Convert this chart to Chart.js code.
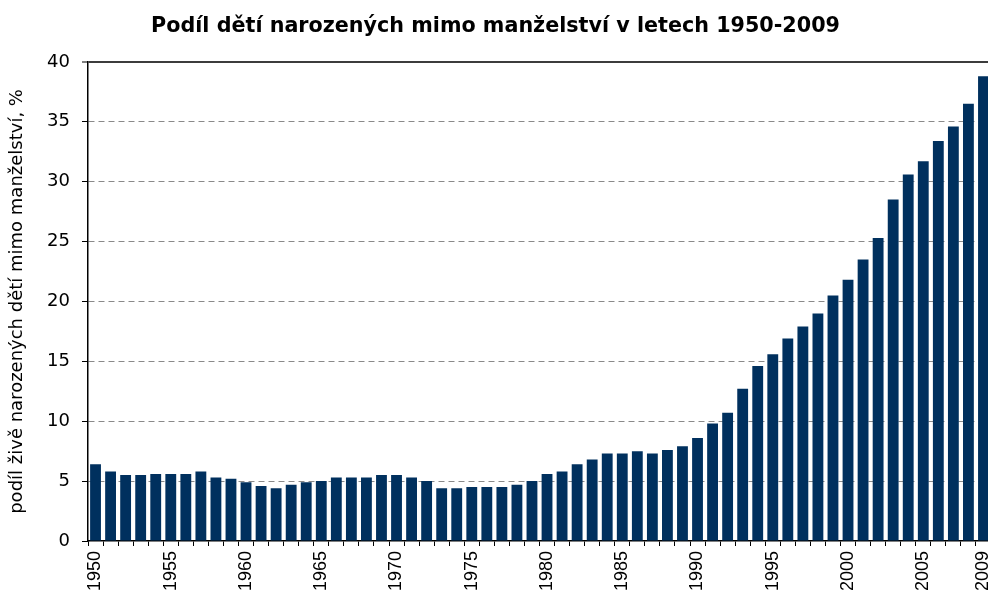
<!DOCTYPE html>
<html>
<head>
<meta charset="utf-8">
<script src="https://cdn.jsdelivr.net/npm/chart.js@4/dist/chart.umd.min.js"></script>
<style>
  html, body { margin: 0; padding: 0; background: #fff; overflow: hidden; }
  #wrap { width: 991px; height: 598px; }
</style>
</head>
<body>
<div id="wrap"><canvas id="chart"></canvas></div>
<script>
const years = [
  '1950', '1951', '1952', '1953', '1954', '1955', '1956', '1957', '1958', '1959',
  '1960', '1961', '1962', '1963', '1964', '1965', '1966', '1967', '1968', '1969',
  '1970', '1971', '1972', '1973', '1974', '1975', '1976', '1977', '1978', '1979',
  '1980', '1981', '1982', '1983', '1984', '1985', '1986', '1987', '1988', '1989',
  '1990', '1991', '1992', '1993', '1994', '1995', '1996', '1997', '1998', '1999',
  '2000', '2001', '2002', '2003', '2004', '2005', '2006', '2007', '2008', '2009'
];

// podíl v %
const shareOutsideMarriage = [
  6.4, 5.8, 5.5, 5.5, 5.6, 5.6, 5.6, 5.8, 5.3, 5.2,
  4.9, 4.6, 4.4, 4.7, 4.9, 5.0, 5.3, 5.3, 5.3, 5.5,
  5.5, 5.3, 5.0, 4.4, 4.4, 4.5, 4.5, 4.5, 4.7, 5.0,
  5.6, 5.8, 6.4, 6.8, 7.3, 7.3, 7.5, 7.3, 7.6, 7.9,
  8.6, 9.8, 10.7, 12.7, 14.6, 15.6, 16.9, 17.9, 19.0, 20.5,
  21.8, 23.5, 25.3, 28.5, 30.6, 31.7, 33.4, 34.6, 36.5, 38.8
];

const xTickLabels = ['1950', '1955', '1960', '1965', '1970', '1975', '1980', '1985', '1990', '1995', '2000', '2005', '2009'];
const yTickValues = [0, 5, 10, 15, 20, 25, 30, 35, 40];

const ctx = document.getElementById('chart').getContext('2d');
new Chart(ctx, {
  type: 'bar',
  data: {
    labels: years,
    datasets: [{
      data: shareOutsideMarriage,
      backgroundColor: '#00305e',
      borderWidth: 0,
      categoryPercentage: 1,
      barPercentage: 0.72
    }]
  },
  options: {
    responsive: true,
    maintainAspectRatio: false,
    animation: false,
    layout: { padding: 0 },
    plugins: {
      legend: { display: false },
      tooltip: { enabled: false },
      title: {
        display: true,
        text: 'Podíl dětí narozených mimo manželství v letech 1950-2009',
        color: '#000',
        font: { family: 'DejaVu Sans', size: 20.7, weight: 'bold' },
        padding: { top: 14, bottom: 23 }
      }
    },
    scales: {
      x: {
        offset: true,
        grid: {
          offset: true,
          drawOnChartArea: false,
          tickLength: 5,
          tickColor: '#000',
          tickWidth: 1
        },
        border: { color: '#000', width: 1.5 },
        ticks: {
          autoSkip: false,
          minRotation: 90,
          maxRotation: 90,
          padding: 5,
          color: '#000',
          font: { family: 'Liberation Sans', size: 18 },
          callback: function (value) {
            const lab = this.getLabelForValue(value);
            return xTickLabels.includes(lab) ? lab : '';
          }
        },
        afterFit: (scale) => {
          scale.height = 57;
          scale.paddingLeft = 0;
          scale.paddingRight = 0;
        }
      },
      y: {
        min: 0,
        max: 40,
        afterBuildTicks: (scale) => {
          scale.ticks = yTickValues.map(v => ({ value: v }));
        },
        grid: {
          color: (c) => c.tick && c.tick.value === 40 ? '#3c3c3c' : (c.tick && c.tick.value === 0 ? 'rgba(0,0,0,0)' : '#8a8a8a'),
          lineWidth: (c) => c.tick && c.tick.value === 40 ? 2 : 1,
          tickLength: 6,
          tickColor: '#000',
          tickWidth: 1,
          tickBorderDash: []
        },
        border: {
          color: '#000',
          width: 1.5,
          dash: (c) => c.tick && c.tick.value === 40 ? [] : [6, 4]
        },
        ticks: {
          padding: 12,
          color: '#000',
          font: { family: 'DejaVu Sans', size: 18 }
        },
        title: {
          display: true,
          text: 'podíl živě narozených dětí mimo manželství, %',
          color: '#000',
          font: { family: 'DejaVu Sans', size: 18 },
          padding: { top: 7, bottom: 0 }
        },
        afterFit: (scale) => { scale.width = 88; }
      }
    }
  }
});
</script>
</body>
</html>
